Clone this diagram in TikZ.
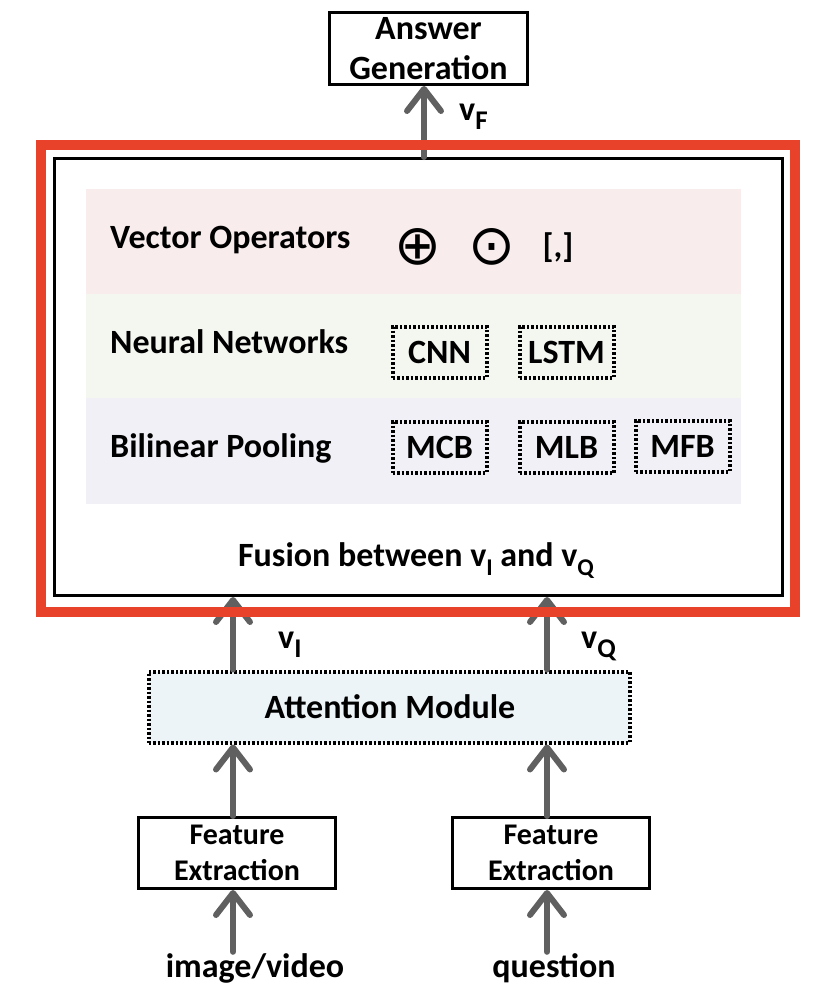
\documentclass[tikz,border=0pt]{standalone}
\usepackage{fontspec}
\setmainfont{Carlito}
\newfontfamily\symfnt{DejaVu Sans}
\usetikzlibrary{arrows.meta}
\definecolor{redc}{HTML}{E8432A}
\definecolor{arrgray}{HTML}{606060}
\definecolor{pinkband}{HTML}{F8ECEC}
\definecolor{greenband}{HTML}{F4F7F0}
\definecolor{purpleband}{HTML}{F1F0F6}
\definecolor{attfill}{HTML}{ECF4F8}
\newcommand\subsc[2][27]{\raisebox{-9pt}{\fontsize{#1}{#1}\selectfont #2}}
\begin{document}
\begin{tikzpicture}[x=1pt,y=-1pt,
  font=\bfseries\fontsize{34}{40}\selectfont,
  arr/.style={draw=arrgray, line width=6pt, line cap=round,
    -{Straight Barb[length=22pt,width=34pt,round]}},
  boxn/.style={draw=black, line width=3pt, fill=white, align=center, inner sep=0pt},
  dbox/.style={draw=black, line width=4pt, dash pattern=on 2.5pt off 2pt, inner sep=0pt,
    minimum width=94pt, minimum height=51pt},
  txt/.style={inner sep=0pt, anchor=base west},
  ctxt/.style={inner sep=0pt, anchor=base},
  symb/.style={inner sep=0pt, font=\symfnt\mdseries\fontsize{56}{56}\selectfont}
]
\useasboundingbox (0,0) rectangle (824,1002);
\coordinate (colL) at (233,0);
\coordinate (colR) at (547,0);
\coordinate (colF) at (424,0);

% top answer box
\node[boxn, minimum width=198pt, minimum height=72pt] (ans) at (428.5,48.5)
  {Answer\\Generation};

% fusion box
\node[draw=black, line width=3pt, fill=white, minimum width=728pt, minimum height=437pt, inner sep=0pt]
  (fus) at (418.5,377) {};

% bands
\fill[pinkband] (86,189) rectangle (741,294);
\fill[greenband] (86,294) rectangle (741,398);
\fill[purpleband] (86,398) rectangle (741,504);

\node[txt] (vo) at (110,248) {Vector Operators};
\node[symb] (oplus) at (418,247) {⊕};
\node[symb] (odot) at (492,247) {⊙};
\node[ctxt] (conc) at (558,257) {[,]};

\node[txt] (nn) at (110,353) {Neural Networks};
\node[dbox] (cnn) at (439.5,352) {CNN};
\node[dbox] (lstm) at (566.5,352) {LSTM};

\node[txt] (bp) at (110,457) {Bilinear Pooling};
\node[dbox] (mcb) at (439.5,447) {MCB};
\node[dbox] (mlb) at (566.5,447.5) {MLB};
\node[dbox] (mfb) at (682.5,446) {MFB};

\node[ctxt] (fustxt) at (416,566) {Fusion between v\subsc[24]{I} and v\subsc[24]{Q}};

% attention
\node[draw=black, line width=4pt, dash pattern=on 2.5pt off 2pt, fill=attfill,
  minimum width=481pt, minimum height=71pt, inner sep=0pt] (att) at (389,707) {};
\node[ctxt] (atttxt) at (390,718) {Attention Module};

% feature extraction
\node[boxn, minimum width=197pt, minimum height=71pt,
  font=\bfseries\fontsize{30}{36}\selectfont] (fe1) at (237,853) {\raisebox{-3pt}{Feature}\\\raisebox{-3pt}{Extraction}};
\node[boxn, minimum width=197pt, minimum height=71pt,
  font=\bfseries\fontsize{30}{36}\selectfont] (fe2) at (551,853) {\raisebox{-3pt}{Feature}\\\raisebox{-3pt}{Extraction}};

% inputs
\node[ctxt, text height=25pt, text depth=6pt] (img) at (255,977) {image/video};
\node[ctxt, text height=25pt, text depth=6pt] (q) at (554,977) {question};

% arrows
\draw[arr] (colL |- img.north) -- (colL |- fe1.south);
\draw[arr] (colR |- q.north) -- (colR |- fe2.south);
\draw[arr] (colL |- fe1.north) -- (colL |- att.south);
\draw[arr] (colR |- fe2.north) -- (colR |- att.south);
\draw[arr] (colL |- att.north) -- (colL |- fus.south);
\draw[arr] (colR |- att.north) -- (colR |- fus.south);
\draw[arr] (colF |- fus.north) -- (colF |- ans.south);

% labels on arrows
\node[txt] (vI) at (278,648) {v\subsc{I}};
\node[txt] (vQ) at (581,648) {v\subsc{Q}};
\node[txt] (vF) at (459,120) {v\subsc{F}};

% red border
\node[draw=redc, line width=10pt, minimum width=754pt, minimum height=467pt, inner sep=0pt]
  (red) at (418,378.5) {};
\end{tikzpicture}
\end{document}
